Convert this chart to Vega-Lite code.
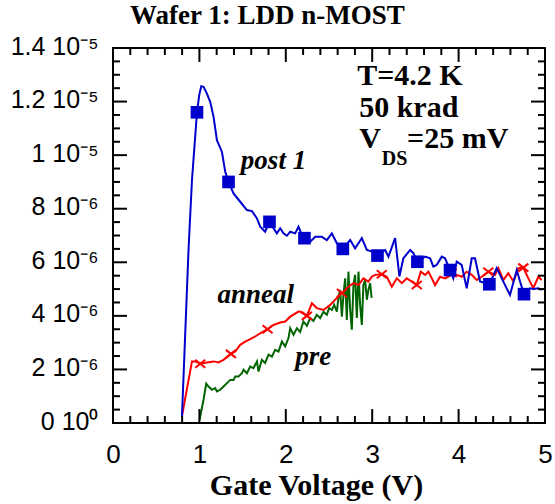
{
  "$schema": "https://vega.github.io/schema/vega-lite/v6.json",
  "width": 432,
  "height": 375,
  "autosize": {"type": "none"},
  "padding": {"left": 113, "top": 48, "right": 10, "bottom": 81},
  "background": "white",
  "title": {"text": "Wafer 1: LDD n-MOST", "anchor": "start", "frame": "group", "dx": 17, "offset": 4, "font": "Liberation Serif", "fontSize": 27, "fontWeight": "bold", "color": "black"},
  "config": {
    "view": {"stroke": "black", "strokeWidth": 2},
    "axis": {"domain": false, "grid": false, "ticks": false, "labelColor": "black", "labelOverlap": false, "labelFlush": false}
  },
  "datasets": {
    "lines": [
      {"series": "pre", "V": 1.002, "I": 0.12}, {"series": "pre", "V": 1.048, "I": 0.87}, {"series": "pre", "V": 1.079, "I": 1.47}, {"series": "pre", "V": 1.106, "I": 1.36}, {"series": "pre", "V": 1.145, "I": 1.24}, {"series": "pre", "V": 1.183, "I": 1.30}, {"series": "pre", "V": 1.203, "I": 1.18}, {"series": "pre", "V": 1.241, "I": 1.24}, {"series": "pre", "V": 1.279, "I": 1.36}, {"series": "pre", "V": 1.319, "I": 1.49}, {"series": "pre", "V": 1.357, "I": 1.61}, {"series": "pre", "V": 1.395, "I": 1.61}, {"series": "pre", "V": 1.415, "I": 1.74}, {"series": "pre", "V": 1.453, "I": 1.74}, {"series": "pre", "V": 1.492, "I": 1.86}, {"series": "pre", "V": 1.511, "I": 1.99}, {"series": "pre", "V": 1.550, "I": 1.86}, {"series": "pre", "V": 1.588, "I": 2.11}, {"series": "pre", "V": 1.626, "I": 2.05}, {"series": "pre", "V": 1.666, "I": 2.30}, {"series": "pre", "V": 1.684, "I": 1.92}, {"series": "pre", "V": 1.723, "I": 2.36}, {"series": "pre", "V": 1.761, "I": 2.24}, {"series": "pre", "V": 1.800, "I": 2.55}, {"series": "pre", "V": 1.839, "I": 2.48}, {"series": "pre", "V": 1.877, "I": 2.73}, {"series": "pre", "V": 1.915, "I": 2.67}, {"series": "pre", "V": 1.955, "I": 3.04}, {"series": "pre", "V": 1.993, "I": 2.86}, {"series": "pre", "V": 2.031, "I": 3.17}, {"series": "pre", "V": 2.051, "I": 3.54}, {"series": "pre", "V": 2.089, "I": 3.29}, {"series": "pre", "V": 2.128, "I": 3.54}, {"series": "pre", "V": 2.166, "I": 3.40}, {"series": "pre", "V": 2.204, "I": 3.79}, {"series": "pre", "V": 2.244, "I": 3.63}, {"series": "pre", "V": 2.282, "I": 3.92}, {"series": "pre", "V": 2.320, "I": 3.81}, {"series": "pre", "V": 2.359, "I": 4.04}, {"series": "pre", "V": 2.398, "I": 3.92}, {"series": "pre", "V": 2.436, "I": 4.15}, {"series": "pre", "V": 2.475, "I": 4.04}, {"series": "pre", "V": 2.502, "I": 4.30}, {"series": "pre", "V": 2.533, "I": 4.22}, {"series": "pre", "V": 2.560, "I": 4.41}, {"series": "pre", "V": 2.591, "I": 4.16}, {"series": "pre", "V": 2.612, "I": 4.74}, {"series": "pre", "V": 2.629, "I": 4.97}, {"series": "pre", "V": 2.649, "I": 3.97}, {"series": "pre", "V": 2.667, "I": 4.78}, {"series": "pre", "V": 2.687, "I": 5.40}, {"series": "pre", "V": 2.706, "I": 3.85}, {"series": "pre", "V": 2.725, "I": 5.65}, {"series": "pre", "V": 2.745, "I": 4.22}, {"series": "pre", "V": 2.764, "I": 3.48}, {"series": "pre", "V": 2.783, "I": 5.15}, {"series": "pre", "V": 2.802, "I": 5.53}, {"series": "pre", "V": 2.822, "I": 3.92}, {"series": "pre", "V": 2.841, "I": 5.65}, {"series": "pre", "V": 2.860, "I": 4.41}, {"series": "pre", "V": 2.880, "I": 3.66}, {"series": "pre", "V": 2.898, "I": 5.15}, {"series": "pre", "V": 2.918, "I": 5.34}, {"series": "pre", "V": 2.938, "I": 4.60}, {"series": "pre", "V": 2.956, "I": 4.97}, {"series": "pre", "V": 2.976, "I": 5.22}, {"series": "pre", "V": 2.993, "I": 4.67},
      {"series": "anneal", "V": 0.798, "I": 0.25}, {"series": "anneal", "V": 0.914, "I": 2.30}, {"series": "anneal", "V": 0.952, "I": 2.30}, {"series": "anneal", "V": 1.010, "I": 2.21}, {"series": "anneal", "V": 1.087, "I": 2.26}, {"series": "anneal", "V": 1.164, "I": 2.30}, {"series": "anneal", "V": 1.221, "I": 2.26}, {"series": "anneal", "V": 1.279, "I": 2.36}, {"series": "anneal", "V": 1.365, "I": 2.58}, {"series": "anneal", "V": 1.415, "I": 2.67}, {"series": "anneal", "V": 1.472, "I": 2.92}, {"series": "anneal", "V": 1.530, "I": 3.04}, {"series": "anneal", "V": 1.588, "I": 3.13}, {"series": "anneal", "V": 1.646, "I": 3.23}, {"series": "anneal", "V": 1.704, "I": 3.35}, {"series": "anneal", "V": 1.789, "I": 3.50}, {"series": "anneal", "V": 1.858, "I": 3.66}, {"series": "anneal", "V": 1.935, "I": 3.75}, {"series": "anneal", "V": 1.993, "I": 3.79}, {"series": "anneal", "V": 2.051, "I": 3.97}, {"series": "anneal", "V": 2.147, "I": 4.16}, {"series": "anneal", "V": 2.166, "I": 4.16}, {"series": "anneal", "V": 2.244, "I": 4.00}, {"series": "anneal", "V": 2.302, "I": 4.47}, {"series": "anneal", "V": 2.359, "I": 4.29}, {"series": "anneal", "V": 2.436, "I": 4.22}, {"series": "anneal", "V": 2.514, "I": 4.41}, {"series": "anneal", "V": 2.571, "I": 4.60}, {"series": "anneal", "V": 2.649, "I": 4.85}, {"series": "anneal", "V": 2.725, "I": 5.09}, {"series": "anneal", "V": 2.783, "I": 5.22}, {"series": "anneal", "V": 2.841, "I": 5.15}, {"series": "anneal", "V": 2.898, "I": 5.40}, {"series": "anneal", "V": 2.956, "I": 5.28}, {"series": "anneal", "V": 2.995, "I": 5.46}, {"series": "anneal", "V": 3.034, "I": 5.53}, {"series": "anneal", "V": 3.111, "I": 5.55}, {"series": "anneal", "V": 3.169, "I": 5.46}, {"series": "anneal", "V": 3.227, "I": 5.09}, {"series": "anneal", "V": 3.285, "I": 5.40}, {"series": "anneal", "V": 3.343, "I": 5.22}, {"series": "anneal", "V": 3.400, "I": 5.40}, {"series": "anneal", "V": 3.458, "I": 5.28}, {"series": "anneal", "V": 3.516, "I": 5.15}, {"series": "anneal", "V": 3.562, "I": 5.65}, {"series": "anneal", "V": 3.612, "I": 5.53}, {"series": "anneal", "V": 3.651, "I": 5.65}, {"series": "anneal", "V": 3.728, "I": 5.15}, {"series": "anneal", "V": 3.786, "I": 5.46}, {"series": "anneal", "V": 3.843, "I": 5.40}, {"series": "anneal", "V": 3.921, "I": 5.53}, {"series": "anneal", "V": 3.978, "I": 5.53}, {"series": "anneal", "V": 4.036, "I": 5.46}, {"series": "anneal", "V": 4.094, "I": 5.65}, {"series": "anneal", "V": 4.152, "I": 5.53}, {"series": "anneal", "V": 4.210, "I": 5.34}, {"series": "anneal", "V": 4.268, "I": 5.46}, {"series": "anneal", "V": 4.344, "I": 5.65}, {"series": "anneal", "V": 4.422, "I": 5.53}, {"series": "anneal", "V": 4.460, "I": 5.78}, {"series": "anneal", "V": 4.518, "I": 5.34}, {"series": "anneal", "V": 4.576, "I": 5.59}, {"series": "anneal", "V": 4.634, "I": 5.28}, {"series": "anneal", "V": 4.691, "I": 5.78}, {"series": "anneal", "V": 4.749, "I": 5.80}, {"series": "anneal", "V": 4.807, "I": 5.40}, {"series": "anneal", "V": 4.865, "I": 5.03}, {"series": "anneal", "V": 4.923, "I": 5.46}, {"series": "anneal", "V": 4.962, "I": 5.34},
      {"series": "post 1", "V": 0.798, "I": 0.23}, {"series": "post 1", "V": 0.874, "I": 6.46}, {"series": "post 1", "V": 0.914, "I": 9.07}, {"series": "post 1", "V": 0.972, "I": 11.60}, {"series": "post 1", "V": 0.998, "I": 12.24}, {"series": "post 1", "V": 1.021, "I": 12.57}, {"series": "post 1", "V": 1.048, "I": 12.55}, {"series": "post 1", "V": 1.087, "I": 12.30}, {"series": "post 1", "V": 1.125, "I": 11.99}, {"series": "post 1", "V": 1.164, "I": 11.43}, {"series": "post 1", "V": 1.203, "I": 10.56}, {"series": "post 1", "V": 1.261, "I": 10.12}, {"series": "post 1", "V": 1.299, "I": 9.38}, {"series": "post 1", "V": 1.337, "I": 9.00}, {"series": "post 1", "V": 1.395, "I": 8.57}, {"series": "post 1", "V": 1.472, "I": 8.26}, {"series": "post 1", "V": 1.550, "I": 7.95}, {"series": "post 1", "V": 1.608, "I": 7.91}, {"series": "post 1", "V": 1.666, "I": 7.64}, {"series": "post 1", "V": 1.704, "I": 7.33}, {"series": "post 1", "V": 1.761, "I": 7.14}, {"series": "post 1", "V": 1.811, "I": 7.51}, {"series": "post 1", "V": 1.858, "I": 7.27}, {"series": "post 1", "V": 1.897, "I": 7.08}, {"series": "post 1", "V": 1.935, "I": 7.27}, {"series": "post 1", "V": 1.973, "I": 7.08}, {"series": "post 1", "V": 2.012, "I": 6.99}, {"series": "post 1", "V": 2.051, "I": 7.14}, {"series": "post 1", "V": 2.109, "I": 7.08}, {"series": "post 1", "V": 2.147, "I": 7.33}, {"series": "post 1", "V": 2.186, "I": 7.02}, {"series": "post 1", "V": 2.216, "I": 6.90}, {"series": "post 1", "V": 2.283, "I": 6.77}, {"series": "post 1", "V": 2.340, "I": 6.95}, {"series": "post 1", "V": 2.417, "I": 6.95}, {"series": "post 1", "V": 2.475, "I": 6.83}, {"series": "post 1", "V": 2.533, "I": 7.08}, {"series": "post 1", "V": 2.591, "I": 6.71}, {"series": "post 1", "V": 2.660, "I": 6.50}, {"series": "post 1", "V": 2.745, "I": 6.83}, {"series": "post 1", "V": 2.802, "I": 6.52}, {"series": "post 1", "V": 2.880, "I": 6.90}, {"series": "post 1", "V": 2.938, "I": 6.46}, {"series": "post 1", "V": 3.000, "I": 6.40}, {"series": "post 1", "V": 3.061, "I": 6.25}, {"series": "post 1", "V": 3.150, "I": 6.46}, {"series": "post 1", "V": 3.188, "I": 6.21}, {"series": "post 1", "V": 3.265, "I": 6.90}, {"series": "post 1", "V": 3.315, "I": 5.47}, {"series": "post 1", "V": 3.361, "I": 6.15}, {"series": "post 1", "V": 3.439, "I": 6.46}, {"series": "post 1", "V": 3.477, "I": 6.34}, {"series": "post 1", "V": 3.523, "I": 6.02}, {"series": "post 1", "V": 3.612, "I": 6.21}, {"series": "post 1", "V": 3.670, "I": 6.15}, {"series": "post 1", "V": 3.708, "I": 5.84}, {"series": "post 1", "V": 3.746, "I": 5.90}, {"series": "post 1", "V": 3.805, "I": 6.21}, {"series": "post 1", "V": 3.843, "I": 6.15}, {"series": "post 1", "V": 3.901, "I": 5.71}, {"series": "post 1", "V": 3.939, "I": 5.40}, {"series": "post 1", "V": 3.978, "I": 6.02}, {"series": "post 1", "V": 4.036, "I": 5.90}, {"series": "post 1", "V": 4.094, "I": 5.03}, {"series": "post 1", "V": 4.152, "I": 6.15}, {"series": "post 1", "V": 4.190, "I": 6.15}, {"series": "post 1", "V": 4.248, "I": 5.28}, {"series": "post 1", "V": 4.356, "I": 5.18}, {"series": "post 1", "V": 4.441, "I": 5.78}, {"series": "post 1", "V": 4.518, "I": 5.28}, {"series": "post 1", "V": 4.595, "I": 4.78}, {"series": "post 1", "V": 4.673, "I": 5.71}, {"series": "post 1", "V": 4.711, "I": 5.28}, {"series": "post 1", "V": 4.757, "I": 4.81}, {"series": "post 1", "V": 4.826, "I": 5.03}, {"series": "post 1", "V": 4.865, "I": 5.00}, {"series": "post 1", "V": 4.923, "I": 5.03}, {"series": "post 1", "V": 4.962, "I": 4.97}
    ],
    "markers": [
      {"series": "anneal", "V": 1.010, "I": 2.21}, {"series": "anneal", "V": 1.365, "I": 2.58}, {"series": "anneal", "V": 1.789, "I": 3.50}, {"series": "anneal", "V": 2.244, "I": 4.00}, {"series": "anneal", "V": 2.649, "I": 4.85}, {"series": "anneal", "V": 3.111, "I": 5.55}, {"series": "anneal", "V": 3.516, "I": 5.15}, {"series": "anneal", "V": 3.921, "I": 5.60}, {"series": "anneal", "V": 4.344, "I": 5.65}, {"series": "anneal", "V": 4.749, "I": 5.80},
      {"series": "post 1", "V": 0.972, "I": 11.60}, {"series": "post 1", "V": 1.337, "I": 9.00}, {"series": "post 1", "V": 1.811, "I": 7.51}, {"series": "post 1", "V": 2.216, "I": 6.90}, {"series": "post 1", "V": 2.660, "I": 6.50}, {"series": "post 1", "V": 3.061, "I": 6.25}, {"series": "post 1", "V": 3.523, "I": 6.02}, {"series": "post 1", "V": 3.901, "I": 5.71}, {"series": "post 1", "V": 4.356, "I": 5.18}, {"series": "post 1", "V": 4.757, "I": 4.81}
    ],
    "xmajor": [{"V": 1}, {"V": 2}, {"V": 3}, {"V": 4}],
    "xminor": [{"V": 0.2}, {"V": 0.4}, {"V": 0.6}, {"V": 0.8}, {"V": 1.2}, {"V": 1.4}, {"V": 1.6}, {"V": 1.8}, {"V": 2.2}, {"V": 2.4}, {"V": 2.6}, {"V": 2.8}, {"V": 3.2}, {"V": 3.4}, {"V": 3.6}, {"V": 3.8}, {"V": 4.2}, {"V": 4.4}, {"V": 4.6}, {"V": 4.8}],
    "ymajor": [{"I": 2}, {"I": 4}, {"I": 6}, {"I": 8}, {"I": 10}, {"I": 12}],
    "yminor": [{"I": 0.5}, {"I": 1}, {"I": 1.5}, {"I": 2.5}, {"I": 3}, {"I": 3.5}, {"I": 4.5}, {"I": 5}, {"I": 5.5}, {"I": 6.5}, {"I": 7}, {"I": 7.5}, {"I": 8.5}, {"I": 9}, {"I": 9.5}, {"I": 10.5}, {"I": 11}, {"I": 11.5}, {"I": 12.5}, {"I": 13}, {"I": 13.5}],
    "conditions": [
      {"V": 2.826, "I": 12.63, "text": "T=4.2 K"},
      {"V": 2.849, "I": 11.43, "text": "50 krad"},
      {"V": 2.849, "I": 10.25, "text": "V"},
      {"V": 3.404, "I": 10.25, "text": "=25 mV"}
    ],
    "subscript": [
      {"V": 3.111, "I": 9.63, "text": "DS"}
    ],
    "labels": [
      {"V": 1.480, "I": 9.50, "text": "post 1"},
      {"V": 1.210, "I": 4.495, "text": "anneal"},
      {"V": 2.109, "I": 2.154, "text": "pre"}
    ]
  },
  "layer": [
    {
      "data": {"name": "lines"},
      "transform": [{"filter": "datum.series === 'pre'"}],
      "mark": {"type": "line", "stroke": "#006400", "strokeWidth": 2, "clip": true},
      "encoding": {
        "x": {"field": "V", "type": "quantitative", "scale": {"domain": [0, 5], "nice": false, "zero": false},
          "axis": {"orient": "bottom", "values": [0, 1, 2, 3, 4, 5],
            "labelExpr": "'' + datum.value",
            "labelFont": "Liberation Sans", "labelFontSize": 26, "labelPadding": 18,
            "title": "Gate Voltage (V)", "titleFont": "Liberation Serif", "titleFontSize": 30, "titleFontWeight": "bold", "titleColor": "black",
            "titleX": 203, "titleY": 71, "titleBaseline": "alphabetic", "titleAlign": "center", "titleAnchor": null}},
        "y": {"field": "I", "type": "quantitative", "scale": {"domain": [0, 14], "nice": false},
          "axis": {"orient": "left", "values": [0, 2, 4, 6, 8, 10, 12, 14],
            "labelExpr": "datum.value === 0 ? '0 10⁰' : (datum.value < 10 ? datum.value + ' 10⁻⁶' : (datum.value / 10) + ' 10⁻⁵')",
            "labelFont": "Liberation Sans", "labelFontSize": 25, "labelPadding": 15, "labelOffset": -2, "title": null}}
      }
    },
    {
      "data": {"name": "lines"},
      "transform": [{"filter": "datum.series === 'anneal'"}],
      "mark": {"type": "line", "stroke": "#ff0000", "strokeWidth": 2, "clip": true},
      "encoding": {"x": {"field": "V", "type": "quantitative"}, "y": {"field": "I", "type": "quantitative"}}
    },
    {
      "data": {"name": "lines"},
      "transform": [{"filter": "datum.series === 'post 1'"}],
      "mark": {"type": "line", "stroke": "#0000cc", "strokeWidth": 2, "clip": true},
      "encoding": {"x": {"field": "V", "type": "quantitative"}, "y": {"field": "I", "type": "quantitative"}}
    },
    {
      "data": {"name": "markers"},
      "transform": [{"filter": "datum.series === 'anneal'"}],
      "mark": {"type": "point", "shape": "M-1,-0.8L1,0.8M1,-0.8L-1,0.8", "filled": false, "stroke": "#ff0000", "strokeWidth": 2, "size": 100, "opacity": 1},
      "encoding": {"x": {"field": "V", "type": "quantitative"}, "y": {"field": "I", "type": "quantitative"}}
    },
    {
      "data": {"name": "markers"},
      "transform": [{"filter": "datum.series === 'post 1'"}],
      "mark": {"type": "point", "shape": "square", "filled": true, "fill": "#0000cc", "size": 160, "opacity": 1},
      "encoding": {"x": {"field": "V", "type": "quantitative"}, "y": {"field": "I", "type": "quantitative"}}
    },
    {
      "data": {"name": "xmajor"},
      "mark": {"type": "rule", "color": "#000000", "strokeWidth": 2, "opacity": 1},
      "encoding": {"x": {"field": "V", "type": "quantitative"}, "y": {"datum": 0, "type": "quantitative"}, "y2": {"datum": 0.52}}
    },
    {
      "data": {"name": "xmajor"},
      "mark": {"type": "rule", "color": "#000000", "strokeWidth": 2, "opacity": 1},
      "encoding": {"x": {"field": "V", "type": "quantitative"}, "y": {"datum": 14, "type": "quantitative"}, "y2": {"datum": 13.48}}
    },
    {
      "data": {"name": "xminor"},
      "mark": {"type": "rule", "color": "#000000", "strokeWidth": 2, "opacity": 1},
      "encoding": {"x": {"field": "V", "type": "quantitative"}, "y": {"datum": 0, "type": "quantitative"}, "y2": {"datum": 0.26}}
    },
    {
      "data": {"name": "xminor"},
      "mark": {"type": "rule", "color": "#000000", "strokeWidth": 2, "opacity": 1},
      "encoding": {"x": {"field": "V", "type": "quantitative"}, "y": {"datum": 14, "type": "quantitative"}, "y2": {"datum": 13.74}}
    },
    {
      "data": {"name": "ymajor"},
      "mark": {"type": "rule", "color": "#000000", "strokeWidth": 2, "opacity": 1},
      "encoding": {"y": {"field": "I", "type": "quantitative"}, "x": {"datum": 0, "type": "quantitative"}, "x2": {"datum": 0.162}}
    },
    {
      "data": {"name": "ymajor"},
      "mark": {"type": "rule", "color": "#000000", "strokeWidth": 2, "opacity": 1},
      "encoding": {"y": {"field": "I", "type": "quantitative"}, "x": {"datum": 5, "type": "quantitative"}, "x2": {"datum": 4.838}}
    },
    {
      "data": {"name": "yminor"},
      "mark": {"type": "rule", "color": "#000000", "strokeWidth": 2, "opacity": 1},
      "encoding": {"y": {"field": "I", "type": "quantitative"}, "x": {"datum": 0, "type": "quantitative"}, "x2": {"datum": 0.081}}
    },
    {
      "data": {"name": "yminor"},
      "mark": {"type": "rule", "color": "#000000", "strokeWidth": 2, "opacity": 1},
      "encoding": {"y": {"field": "I", "type": "quantitative"}, "x": {"datum": 5, "type": "quantitative"}, "x2": {"datum": 4.919}}
    },
    {
      "data": {"name": "conditions"},
      "mark": {"type": "text", "align": "left", "baseline": "alphabetic", "font": "Liberation Serif", "fontSize": 30, "fontWeight": "bold", "color": "black"},
      "encoding": {"x": {"field": "V", "type": "quantitative"}, "y": {"field": "I", "type": "quantitative"}, "text": {"field": "text"}}
    },
    {
      "data": {"name": "subscript"},
      "mark": {"type": "text", "align": "left", "baseline": "alphabetic", "font": "Liberation Serif", "fontSize": 20, "fontWeight": "bold", "color": "black"},
      "encoding": {"x": {"field": "V", "type": "quantitative"}, "y": {"field": "I", "type": "quantitative"}, "text": {"field": "text"}}
    },
    {
      "data": {"name": "labels"},
      "mark": {"type": "text", "align": "left", "baseline": "alphabetic", "font": "Liberation Serif", "fontSize": 27, "fontWeight": "bold", "fontStyle": "italic", "color": "black"},
      "encoding": {"x": {"field": "V", "type": "quantitative"}, "y": {"field": "I", "type": "quantitative"}, "text": {"field": "text"}}
    }
  ]
}
